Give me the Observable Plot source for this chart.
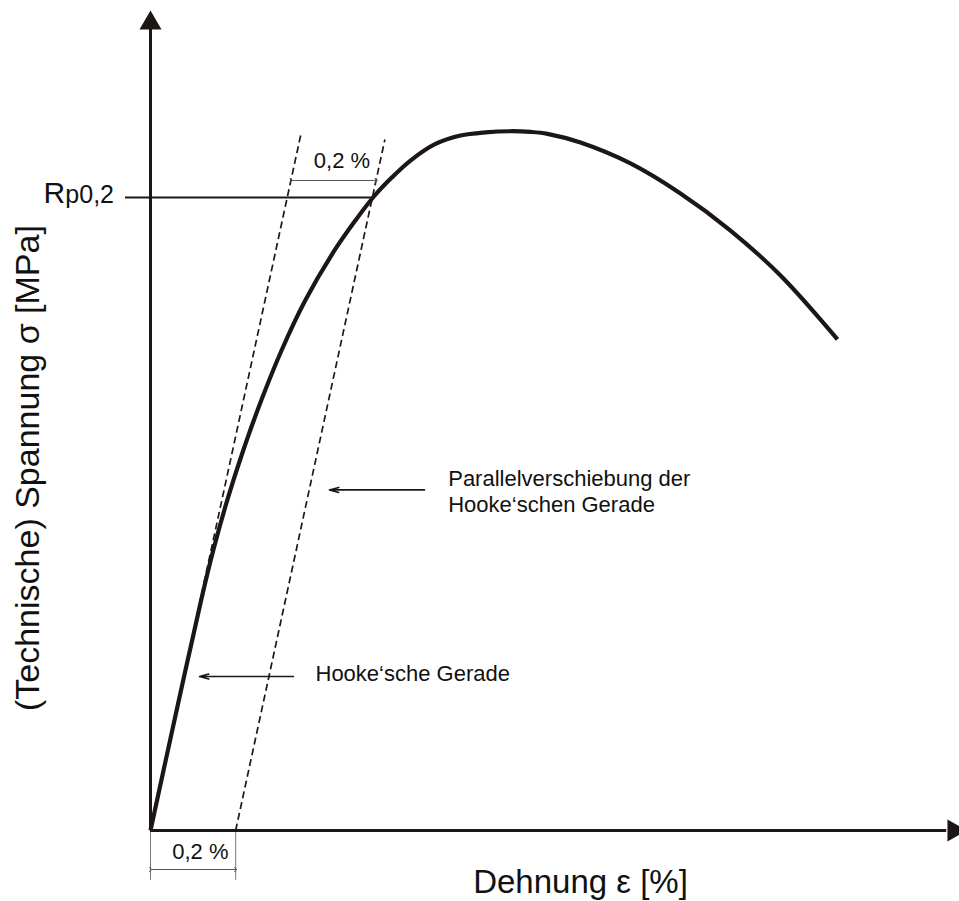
<!DOCTYPE html>
<html><head><meta charset="utf-8">
<script src="https://cdn.jsdelivr.net/npm/d3@7"></script>
<script src="https://cdn.jsdelivr.net/npm/@observablehq/plot@0.6"></script>
<style>html,body{margin:0;padding:0;background:#fff}#chart svg{display:block}</style>
</head><body><div id="chart"></div>
<script>
// Stress–strain curve (strain in %, stress in arbitrary MPa units)
const strain = [0, 0.0587, 0.1188, 0.1473, 0.1801, 0.2177, 0.2600, 0.3077, 0.3633, 0.4321, 0.4812, 0.5226, 0.5660, 0.6106, 0.6693, 0.7281, 0.7868, 0.8455, 0.8925, 0.9324, 1.0099, 1.1273, 1.2447, 1.3622, 1.4796, 1.6135];
const stress = [0, 83.1, 166.3, 202.4, 238.6, 274.7, 310.8, 347.0, 383.1, 419.3, 441.0, 457.6, 471.8, 484.3, 496.3, 502.4, 504.7, 505.5, 505.0, 503.6, 497.3, 482.2, 460.5, 433.7, 401.2, 355.0];

// Hooke line and its 0.2 % parallel shift
const hookeX1 = [0, 0.2];
const hookeY1 = [0, 0];
const hookeX2 = [0.3526, 0.5505];
const hookeY2 = [502.4, 499.5];

// Rp0,2 level
const rp = 457.6;
const rpX = [-0.0587, 0.5226];

// axis extents
const axisXEnd = 1.87;
const axisYEnd = 579;
const arrowTipX = 1.8867;
const arrowTipY = 583.6;

// dimension 0,2 % (top and bottom)
const dimX1 = [0.33, 0];
const dimX2 = [0.53, 0.2];
const dimY = [469.9, -28.2];
const extX = [0, 0.2];
const extY1 = -1.5, extY2 = -36;

// pointer arrows
const ptrX1 = [0.3358, 0.6435];
const ptrX2 = [0.1151, 0.4204];
const ptrY = [111.3, 246.2];

// annotation texts
const noteText = ["Hooke\u2018sche Gerade", "Parallelverschiebung der", "Hooke\u2018schen Gerade", "0,2 %", "0,2 %"];
const noteX = [0.3875, 0.6992, 0.6992, 0.3836, 0.051];
const noteY = [108.4, 248.8, 230.0, 478.6, -20.8];

const xLabel = "Dehnung \u03b5 [%]";
const yLabel = "(Technische) Spannung \u03c3 [MPa]";

const ink = "#1c1715";
const font = "'Liberation Sans', Arial, sans-serif";
const curve = strain.map((s, i) => ({s, t: stress[i]}));

const chart = Plot.plot({
  width: 959, height: 901,
  marginLeft: 150, marginRight: 0, marginTop: 0, marginBottom: 71,
  x: {domain: [0, 1.9], axis: null},
  y: {domain: [0, 600], axis: null},
  style: {background: "#fff", overflow: "visible", fontFamily: font},
  marks: [
    // axes
    Plot.ruleX([0], {y1: 0, y2: axisYEnd, stroke: ink, strokeWidth: 3}),
    Plot.ruleY([0], {x1: 0, x2: axisXEnd, stroke: ink, strokeWidth: 3}),
    Plot.dot([0], {x: 0, y: arrowTipY, symbol: "triangle", r: 8.2, fill: ink, stroke: "none"}),
    Plot.dot([0], {x: arrowTipX, y: 0, symbol: "triangle", r: 8.2, rotate: 90, fill: ink, stroke: "none"}),
    // Rp line
    Plot.ruleY([rp], {x1: rpX[0], x2: rpX[1], stroke: ink, strokeWidth: 2}),
    // dashed Hooke lines
    Plot.link(hookeX1, {x1: (d, i) => hookeX1[i], y1: (d, i) => hookeY1[i], x2: (d, i) => hookeX2[i], y2: (d, i) => hookeY2[i], stroke: ink, strokeWidth: 1.7, strokeDasharray: "7,4"}),
    // curve
    Plot.line(curve, {x: "s", y: "t", curve: "catmull-rom", stroke: ink, strokeWidth: 4.2, strokeLinecap: "butt"}),
    // dimension lines
    Plot.ruleX(extX, {y1: extY1, y2: extY2, stroke: "#777", strokeWidth: 1}),
    Plot.link(dimX1, {x1: (d, i) => dimX1[i], x2: (d, i) => dimX2[i], y1: (d, i) => dimY[i], y2: (d, i) => dimY[i], stroke: "#555", strokeWidth: 1, markerStart: "arrow", markerEnd: "arrow"}),
    // pointer arrows
    Plot.arrow(ptrX1, {x1: (d, i) => ptrX1[i], x2: (d, i) => ptrX2[i], y1: (d, i) => ptrY[i], y2: (d, i) => ptrY[i], stroke: ink, strokeWidth: 1.6, headLength: 9, headAngle: 30}),
    // annotation text
    Plot.text(noteText, {x: (d, i) => noteX[i], y: (d, i) => noteY[i], text: d => d, textAnchor: "start", lineAnchor: "bottom", fontSize: 22, fill: "#111", fontFamily: font}),
    // Rp label
    Plot.text(["R"], {x: -0.2513, y: 453.3, text: d => d, textAnchor: "start", lineAnchor: "bottom", fontSize: 30, fill: "#111", fontFamily: font}),
    Plot.text(["p0,2"], {x: -0.2000, y: 453.3, text: d => d, textAnchor: "start", lineAnchor: "bottom", fontSize: 25, fill: "#111", fontFamily: font}),
    // axis labels
    Plot.text([xLabel], {x: 1.0099, y: -45.5, text: d => d, textAnchor: "middle", lineAnchor: "bottom", fontSize: 33, fill: "#111", fontFamily: font}),
    Plot.text([yLabel], {x: -0.263, y: 262, text: d => d, rotate: -90, textAnchor: "middle", lineAnchor: "bottom", fontSize: 34, fill: "#111", fontFamily: font})
  ]
});
document.getElementById("chart").appendChild(chart);
</script></body></html>
